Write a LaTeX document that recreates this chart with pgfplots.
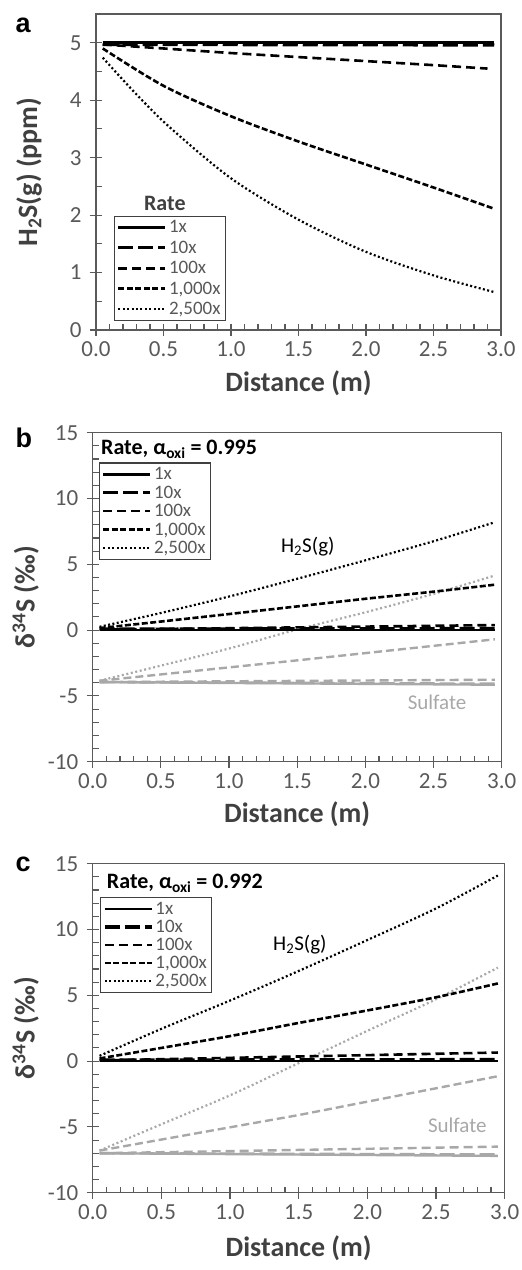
\documentclass[border=0pt]{standalone}
\usepackage{fontspec}
\setmainfont{Carlito}
\newfontfamily\arialfont{Liberation Sans}
\usepackage{pgfplots}
\pgfplotsset{compat=1.18}
\definecolor{axgray}{HTML}{5A5A5A}
\definecolor{txtgray}{HTML}{404040}
\definecolor{lblgray}{HTML}{595959}
\definecolor{sulf}{HTML}{A8A8A8}
\pgfplotsset{
  common/.style={
    scale only axis,
    axis line style={axgray, line width=1.4pt},
    tick style={axgray, line width=1.1pt},
    tick align=inside,
    tick pos=left,
    major tick length=12pt,
    minor tick length=6pt,
    every major x tick/.append style={yshift=-6pt},
    every major y tick/.append style={xshift=-6pt},
    xmin=0, xmax=3,
    xtick={0,0.5,1,1.5,2,2.5,3},
    xticklabels={0.0,0.5,1.0,1.5,2.0,2.5,3.0},
    minor x tick num=4,
    ticklabel style={font=\fontsize{23}{26}\selectfont, text=lblgray},
    xticklabel style={yshift=-8pt},
    yticklabel style={xshift=-11pt},
    every axis x label/.style={at={(axis description cs:0.5,0)}, anchor=center, yshift=-53pt, font=\bfseries\fontsize{28}{32}\selectfont, text=txtgray},
    every axis y label/.style={at={(axis description cs:0,0.5)}, anchor=center, xshift=-67pt, rotate=90, font=\bfseries\fontsize{28}{32}\selectfont, text=txtgray},
    xlabel={Distance (m)},
    legend image code/.code={\draw[#1] (0pt,0pt) -- (47pt,0pt);},
    legend cell align=left,
  },
  r1/.style={black, line width=2.6pt},
  r10/.style={black, line width=3.2pt, dash pattern=on 15pt off 5pt},
  r100/.style={black, line width=2.6pt, dash pattern=on 9pt off 5pt},
  r1000/.style={black, line width=2.6pt, dash pattern=on 6pt off 2.5pt},
  r2500/.style={black, line width=2.2pt, dash pattern=on 2pt off 2.4pt},
  s1/.style={sulf, line width=2.4pt},
  s10/.style={sulf, line width=2.6pt, dash pattern=on 15pt off 5pt},
  s100/.style={sulf, line width=2.4pt, dash pattern=on 9pt off 5pt},
  s1000/.style={sulf, line width=2.4pt, dash pattern=on 8pt off 4pt},
  s2500/.style={sulf, line width=2.2pt, dash pattern=on 2pt off 2.6pt},
}
\begin{document}
\begin{tikzpicture}[x=1pt,y=1pt]
\path[use as bounding box] (0,0) rectangle (522,1270);
\node[anchor=base west, font=\arialfont\bfseries\fontsize{27}{30}\selectfont] at (12,1237) {a};
\node[anchor=base west, font=\arialfont\bfseries\fontsize{27}{30}\selectfont] at (12,822) {b};
\node[anchor=base west, font=\arialfont\bfseries\fontsize{27}{30}\selectfont] at (12,398) {c};

% ---------------- panel a
\begin{axis}[common,
  at={(96pt,940pt)}, anchor=south west,
  width=405pt, height=316pt,
  ymin=0, ymax=5.5, ytick={0,1,2,3,4,5}, yticklabels={0,1,2,3,4,5},
  minor y tick num=1,
  ylabel={H\textsubscript{2}S(g) (ppm)},
  legend style={at={(rel axis cs:0.044,0.028)}, anchor=south west, draw=txtgray, line width=1.1pt,
    font=\fontsize{19}{21}\selectfont, text=lblgray, inner sep=2.5pt, row sep=2.6pt},
]
\addplot[r1] coordinates {(0.05,5.0) (2.95,5.0)};
\addlegendentry{1x}
\addplot[r10] coordinates {(0.05,4.97) (2.95,4.96)};
\addlegendentry{10x}
\addplot[r100] coordinates {(0.05,4.97) (0.5,4.9) (1.0,4.82) (1.5,4.75) (2.0,4.68) (2.5,4.61) (2.9,4.55)};
\addlegendentry{100x}
\addplot[r1000, smooth] coordinates {(0.05,4.90) (0.5,4.25) (1.0,3.72) (1.5,3.28) (2.0,2.88) (2.5,2.48) (2.95,2.11)};
\addlegendentry{1,000x}
\addplot[r2500, smooth] coordinates {(0.05,4.74) (0.3,4.1) (0.55,3.52) (1.0,2.64) (1.5,1.92) (2.0,1.36) (2.5,0.95) (2.95,0.66)};
\addlegendentry{2,500x}
\node[font=\bfseries\fontsize{22}{26}\selectfont, text=txtgray] at (rel axis cs:0.17,0.40) {Rate};
\end{axis}

% ---------------- panel b
\begin{axis}[common,
  at={(92.7pt,508.3pt)}, anchor=south west,
  width=409pt, height=329pt,
  ymin=-10, ymax=15, ytick={-10,-5,0,5,10,15}, yticklabels={-10,-5,0,5,10,15},
  minor y tick num=4,
  ylabel={δ\textsuperscript{34}S (‰)},
  legend style={at={(rel axis cs:0.015,0.613)}, anchor=south west, draw=txtgray, line width=1.1pt,
    font=\fontsize{19}{21}\selectfont, text=lblgray, inner sep=2.5pt, row sep=0.6pt},
]
\addplot[s1, forget plot] coordinates {(0.05,-3.95) (2.95,-4.15)};
\addplot[s10, forget plot] coordinates {(0.05,-3.95) (2.95,-4.08)};
\addplot[s100, forget plot] coordinates {(0.05,-3.95) (2.95,-3.77)};
\addplot[s1000, forget plot] coordinates {(0.05,-3.85) (1.5,-2.3) (2.95,-0.7)};
\addplot[s2500, forget plot, smooth] coordinates {(0.05,-3.85) (0.5,-2.7) (1.0,-1.4) (1.5,0.05) (2.0,1.35) (2.5,2.75) (2.95,4.15)};
\addplot[r1] coordinates {(0.05,0) (2.95,0)};
\addlegendentry{1x}
\addplot[r10] coordinates {(0.05,0.08) (2.95,0.12)};
\addlegendentry{10x}
\addplot[r100] coordinates {(0.05,0.03) (2.95,0.38)};
\addlegendentry{100x}
\addplot[r1000, smooth] coordinates {(0.05,0.15) (0.5,0.65) (1.0,1.22) (1.5,1.8) (2.0,2.38) (2.5,2.92) (2.95,3.45)};
\addlegendentry{1,000x}
\addplot[r2500, smooth] coordinates {(0.05,0.25) (0.5,1.3) (1.0,2.55) (1.5,3.9) (2.0,5.3) (2.5,6.75) (2.95,8.2)};
\addlegendentry{2,500x}
\node[anchor=west, font=\bfseries\fontsize{22}{26}\selectfont, text=black] at (rel axis cs:0.012,0.95) {Rate, α\textsubscript{oxi} = 0.995};
\node[font=\fontsize{21}{24}\selectfont, text=black] at (rel axis cs:0.526,0.653) {H\textsubscript{2}S(g)};
\node[font=\fontsize{21}{24}\selectfont, text=sulf] at (rel axis cs:0.842,0.181) {Sulfate};
\end{axis}

% ---------------- panel c
\begin{axis}[common,
  at={(92.7pt,77.3pt)}, anchor=south west,
  width=412pt, height=329pt,
  ymin=-10, ymax=15, ytick={-10,-5,0,5,10,15}, yticklabels={-10,-5,0,5,10,15},
  minor y tick num=4,
  ylabel={δ\textsuperscript{34}S (‰)},
  every axis x label/.append style={yshift=-3pt},
  legend style={at={(rel axis cs:0.018,0.607)}, anchor=south west, draw=txtgray, line width=1.1pt,
    font=\fontsize{19}{21}\selectfont, text=lblgray, inner sep=2.5pt, row sep=0.2pt},
]
\addplot[s1, forget plot] coordinates {(0.05,-7.0) (2.95,-7.2)};
\addplot[s10, forget plot] coordinates {(0.05,-7.0) (2.95,-7.1)};
\addplot[s100, forget plot] coordinates {(0.05,-7.0) (2.95,-6.5)};
\addplot[s1000, forget plot] coordinates {(0.05,-6.8) (1.5,-4.1) (2.95,-1.15)};
\addplot[s2500, forget plot, smooth] coordinates {(0.05,-6.8) (0.5,-4.8) (1.0,-2.6) (1.5,-0.15) (2.0,2.3) (2.5,4.7) (2.95,7.1)};
\addplot[r1] coordinates {(0.05,0) (2.95,0)};
\addlegendentry{1x}
\addplot[r10] coordinates {(0.05,0.08) (2.95,0.12)};
\addlegendentry{10x}
\addplot[r100] coordinates {(0.05,0.05) (2.95,0.65)};
\addlegendentry{100x}
\addplot[r1000, smooth] coordinates {(0.05,0.2) (0.5,1.0) (1.0,1.9) (1.5,2.9) (2.0,3.85) (2.5,4.85) (2.95,5.9)};
\addlegendentry{1,000x}
\addplot[r2500, smooth] coordinates {(0.05,0.4) (0.5,2.45) (1.0,4.6) (1.5,6.85) (2.0,9.2) (2.5,11.6) (2.95,14.1)};
\addlegendentry{2,500x}
\node[anchor=west, font=\bfseries\fontsize{22}{26}\selectfont, text=black] at (rel axis cs:0.026,0.94) {Rate, α\textsubscript{oxi} = 0.992};
\node[font=\fontsize{21}{24}\selectfont, text=black] at (rel axis cs:0.503,0.753) {H\textsubscript{2}S(g)};
\node[font=\fontsize{21}{24}\selectfont, text=sulf] at (rel axis cs:0.885,0.206) {Sulfate};
\end{axis}
\end{tikzpicture}
\end{document}
